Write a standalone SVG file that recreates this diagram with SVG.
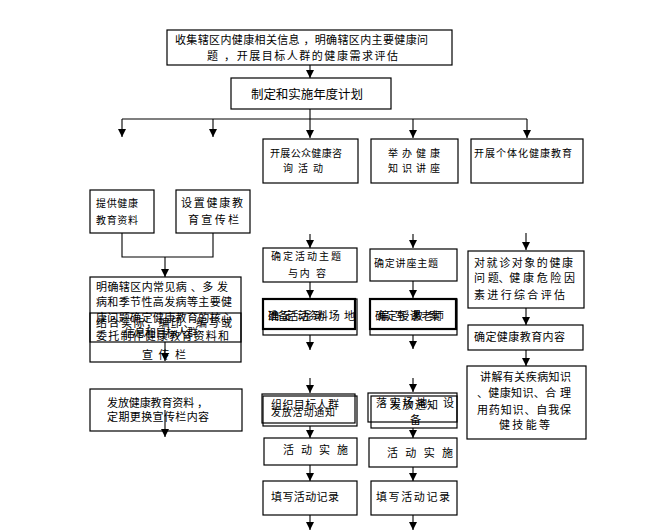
<svg xmlns="http://www.w3.org/2000/svg" width="670" height="530" viewBox="0 0 670 530">
<style>
  .b{fill:none;stroke:#000;stroke-width:1.2}
  .bt{fill:none;stroke:#000;stroke-width:2.2}
  .t{font-family:"Liberation Sans","Noto Sans CJK SC",sans-serif;font-size:11px;fill:#000}
  .s{font-size:10px}
  .m{font-size:12.5px}
  .c{fill:none;stroke:#000;stroke-width:1.1}
  .a{fill:none;stroke:#000;stroke-width:1.1;marker-end:url(#ah)}
</style>
<defs>
  <marker id="ah" markerUnits="userSpaceOnUse" markerWidth="8" markerHeight="8" refX="8" refY="4" orient="auto">
    <path d="M0,0 L8,4 L0,8 z" fill="#000"/>
  </marker>
</defs>
<rect width="670" height="530" fill="#fff"/>

<g id="connectors">
  <path class="a" d="M310,65 V78"/>
  <path class="c" d="M310,109 V119 M122,119 H527"/>
  <path class="a" d="M122,119 V137"/>
  <path class="a" d="M213,119 V137"/>
  <path class="a" d="M310,119 V138"/>
  <path class="a" d="M413,119 V138"/>
  <path class="a" d="M527,119 V138"/>
  <path class="c" d="M122,233 V257 H213 V233"/>
  <path class="a" d="M165,257 V277"/>
  <path class="a" d="M165,342 V361"/>
  <path class="a" d="M165,410 V437"/>
  <path class="a" d="M310,234 V248"/>
  <path class="a" d="M310,282 V298"/>
  <path class="a" d="M310,335 V350"/>
  <path class="a" d="M310,378 V393"/>
  <path class="a" d="M310,426 V438"/>
  <path class="a" d="M310,465 V481"/>
  <path class="a" d="M310,515 V530"/>
  <path class="a" d="M413,234 V248"/>
  <path class="a" d="M413,281 V298"/>
  <path class="a" d="M413,335 V349"/>
  <path class="a" d="M413,378 V392"/>
  <path class="a" d="M413,428 V438"/>
  <path class="a" d="M413,467 V481"/>
  <path class="a" d="M413,515 V530"/>
  <path class="a" d="M526,233 V250"/>
  <path class="a" d="M526,308 V325"/>
  <path class="a" d="M526,350 V366"/>
</g>

<g id="n-collect">
  <rect class="b" x="167" y="30" width="285" height="35"/>
  <text class="t" x="175" y="44" textLength="253" lengthAdjust="spacing">收集辖区内健康相关信息 ，明确辖区内主要健康问</text>
  <text class="t" x="207" y="60" textLength="191" lengthAdjust="spacing">题 ，开展目标人群的健康需求评估</text>
</g>
<g id="n-plan">
  <rect class="b" x="231" y="78" width="160" height="31"/>
  <text class="t m" x="251" y="99" textLength="112" lengthAdjust="spacing">制定和实施年度计划</text>
</g>
<g id="n-consult">
  <rect class="b" x="263" y="139" width="95" height="44"/>
  <text class="t s" x="270" y="157" textLength="72" lengthAdjust="spacing">开展公众健康咨</text>
  <text class="t s" x="283" y="172" textLength="40" lengthAdjust="spacing">询 活 动</text>
</g>
<g id="n-lecture">
  <rect class="b" x="371" y="139" width="87" height="44"/>
  <text class="t s" x="388" y="157" textLength="52" lengthAdjust="spacing">举 办 健 康</text>
  <text class="t s" x="388" y="172" textLength="52" lengthAdjust="spacing">知 识 讲 座</text>
</g>
<g id="n-individual">
  <rect class="b" x="471" y="139" width="112" height="44"/>
  <text class="t s" x="474" y="157" textLength="98" lengthAdjust="spacing">开展个体化健康教育</text>
</g>
<g id="n-provide">
  <rect class="b" x="90" y="190" width="64" height="43"/>
  <text class="t s" x="96" y="207" textLength="42" lengthAdjust="spacing">提供健康</text>
  <text class="t s" x="96" y="224" textLength="42" lengthAdjust="spacing">教育资料</text>
</g>
<g id="n-board">
  <rect class="b" x="176" y="190" width="74" height="43"/>
  <text class="t" x="181" y="207" textLength="62" lengthAdjust="spacing">设置健康教</text>
  <text class="t" x="188" y="224" textLength="51" lengthAdjust="spacing">育 宣 传 栏</text>
</g>
<g id="n-define">
  <rect class="b" x="90" y="277" width="151" height="65"/>
  <text class="t" x="96" y="291" textLength="132" lengthAdjust="spacing">明确辖区内常见病 、多 发</text>
  <text class="t" x="96" y="306" textLength="136" lengthAdjust="spacing">病和季节性高发病等主要健</text>
  <text class="t" x="96" y="322" textLength="136" lengthAdjust="spacing">康问题确定健康教育的核心</text>
  <text class="t" x="124" y="337" textLength="74" lengthAdjust="spacing">信息和目标人群</text>
</g>
<g id="n-produce">
  <rect class="b" x="90" y="313" width="151" height="49"/>
  <text class="t" x="96" y="327" textLength="136" lengthAdjust="spacing">结合实际，编印、编写或</text>
  <text class="t" x="96" y="340" textLength="133" lengthAdjust="spacing">委托制作健康教育资料和</text>
  <text class="t" x="142" y="359" textLength="44" lengthAdjust="spacing">宣 传 栏</text>
</g>
<g id="n-distribute">
  <rect class="b" x="90" y="389" width="152" height="42"/>
  <text class="t" x="107" y="407" textLength="101" lengthAdjust="spacing">发放健康教育资料 ，</text>
  <text class="t" x="107" y="421" textLength="102" lengthAdjust="spacing">定期更换宣传栏内容</text>
</g>

<g id="n-theme">
  <rect class="b" x="263" y="248" width="94" height="34"/>
  <text class="t s" x="271" y="260" textLength="70" lengthAdjust="spacing">确定活动主题</text>
  <text class="t s" x="288" y="277" textLength="38" lengthAdjust="spacing">与内 容</text>
</g>
<g id="n-prepare">
  <rect class="b" x="263" y="299" width="94" height="36"/>
  <rect class="bt" x="263" y="299" width="92" height="30"/>
  <text class="t" x="268" y="320" textLength="87" lengthAdjust="spacing">确定活动场地</text>
  <text class="t" x="268" y="320" textLength="60" lengthAdjust="spacing">准备活动资料</text>
</g>
<g id="n-organize">
  <rect class="b" x="262" y="394" width="93" height="29"/>
  <rect class="b" x="263" y="396" width="94" height="30"/>
  <text class="t" x="271" y="409" textLength="68" lengthAdjust="spacing">组织目标人群</text>
  <text class="t s" x="271" y="416" textLength="64" lengthAdjust="spacing">发放活动通知</text>
</g>
<g id="n-implement1">
  <rect class="b" x="264" y="438" width="93" height="27"/>
  <text class="t" x="283" y="454" textLength="65" lengthAdjust="spacing">活 动 实 施</text>
</g>
<g id="n-record1">
  <rect class="b" x="263" y="481" width="94" height="34"/>
  <text class="t" x="271" y="501" textLength="68" lengthAdjust="spacing">填写活动记录</text>
</g>

<g id="n-ltheme">
  <rect class="b" x="370" y="249" width="87" height="32"/>
  <text class="t s" x="374" y="267" textLength="64" lengthAdjust="spacing">确定讲座主题</text>
</g>
<g id="n-teacher">
  <rect class="b" x="370" y="299" width="87" height="36"/>
  <rect class="bt" x="370" y="299" width="86" height="30"/>
  <text class="t" x="375" y="320" textLength="69" lengthAdjust="spacing">确定授课老师</text>
  <text class="t" x="378" y="320" textLength="62" lengthAdjust="spacing">编写教案</text>
</g>
<g id="n-venue">
  <rect class="b" x="368" y="393" width="89" height="29"/>
  <rect class="b" x="371" y="396" width="86" height="32"/>
  <text class="t" x="376" y="407" textLength="78" lengthAdjust="spacing">落实场地、设</text>
  <text class="t" x="390" y="409" textLength="48" lengthAdjust="spacing">发放通知</text>
  <text class="t" x="410" y="424">备</text>
</g>
<g id="n-implement2">
  <rect class="b" x="369" y="438" width="88" height="29"/>
  <text class="t" x="387" y="457" textLength="66" lengthAdjust="spacing">活 动 实 施</text>
</g>
<g id="n-record2">
  <rect class="b" x="371" y="481" width="86" height="34"/>
  <text class="t" x="376" y="501" textLength="74" lengthAdjust="spacing">填 写 活 动 记 录</text>
</g>

<g id="n-assess">
  <rect class="b" x="468" y="251" width="116" height="57"/>
  <text class="t" x="474" y="267" textLength="99" lengthAdjust="spacing">对 就 诊 对 象 的 健 康</text>
  <text class="t" x="474" y="282" textLength="101" lengthAdjust="spacing">问 题、健 康 危 险 因</text>
  <text class="t" x="474" y="299" textLength="91" lengthAdjust="spacing">素 进 行 综 合 评 估</text>
</g>
<g id="n-content">
  <rect class="b" x="468" y="325" width="115" height="25"/>
  <text class="t" x="474" y="341" textLength="91" lengthAdjust="spacing">确定健康教育内容</text>
</g>
<g id="n-explain">
  <rect class="b" x="467" y="366" width="119" height="73"/>
  <text class="t" x="480" y="381" textLength="91" lengthAdjust="spacing">讲解有关疾病知识</text>
  <text class="t" x="477" y="397" textLength="94" lengthAdjust="spacing">、健康知识、合 理</text>
  <text class="t" x="477" y="414" textLength="94" lengthAdjust="spacing">用药知识、自我保</text>
  <text class="t" x="499" y="429" textLength="51" lengthAdjust="spacing">健 技 能 等</text>
</g>
</svg>
